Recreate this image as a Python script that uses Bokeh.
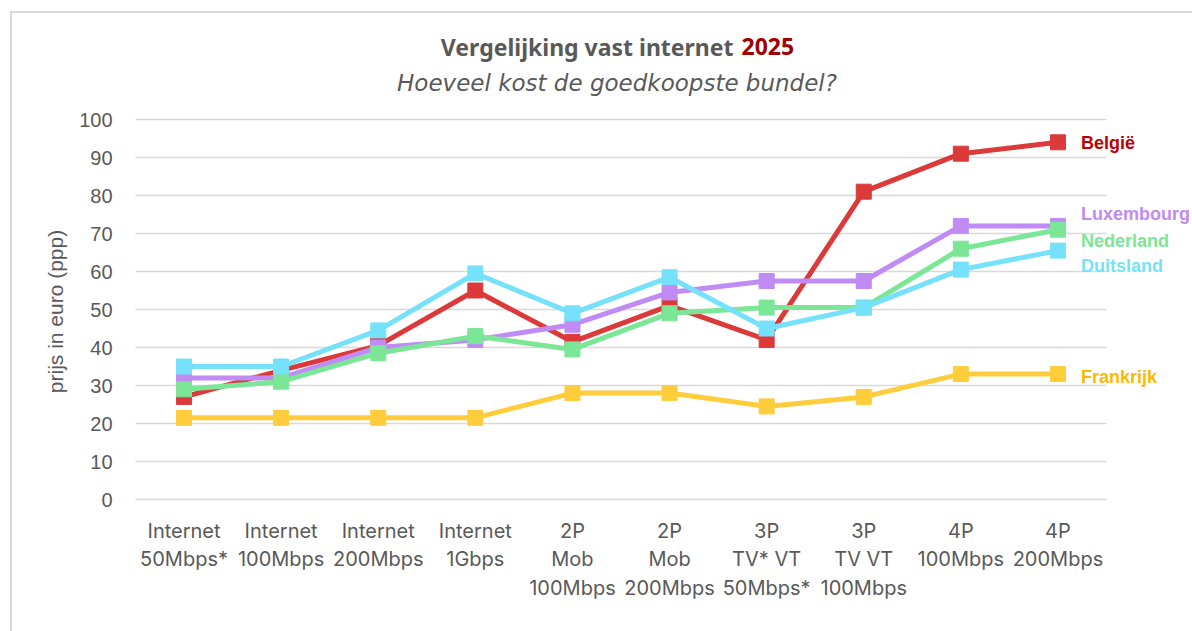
import math
from bokeh.plotting import figure
from bokeh.models import Range1d, FixedTicker, Label, Grid
from bokeh.embed import file_html
from bokeh.resources import INLINE

categories = ["Internet\n50Mbps*", "Internet\n100Mbps", "Internet\n200Mbps", "Internet\n1Gbps",
              "2P\nMob\n100Mbps", "2P\nMob\n200Mbps", "3P\nTV* VT\n50Mbps*", "3P\nTV VT\n100Mbps",
              "4P\n100Mbps", "4P\n200Mbps"]
belgie = [27, 34, 40.5, 55, 41.5, 51, 42, 81, 91, 94]
luxemburg = [32, 32, 40, 42, 46, 54.5, 57.5, 57.5, 72, 72]
nederland = [29, 31, 38.5, 43, 39.5, 49, 50.5, 50.5, 66, 71]
duitsland = [35, 35, 44.5, 59.5, 49, 58.5, 45, 50.5, 60.5, 65.5]
frankrijk = [21.5, 21.5, 21.5, 21.5, 28, 28, 24.5, 27, 33, 33]
y_ticks = list(range(0, 101, 10))

xs = [i + 0.5 for i in range(len(categories))]
n = len(categories)

# layout geometry (pixels)
W, H = 1182, 620
ORIGIN_X, ORIGIN_Y = 12, 13          # canvas origin on the page
FRAME_L, FRAME_B, FRAME_T = 135, 499, 119   # page pixels of the value area (0..100)
px_per_x = 97.1
px_per_y = (FRAME_B - FRAME_T) / 100.0
CLIP_B = 508                           # page y of the bottom of the drawing area

x0 = (ORIGIN_X - FRAME_L) / px_per_x
x1 = x0 + W / px_per_x
ytop = (FRAME_B - ORIGIN_Y) / px_per_y
ybot = -(CLIP_B - FRAME_B) / px_per_y

p = figure(width=W, height=H, output_backend="svg", toolbar_location=None,
           x_range=Range1d(x0, x1), y_range=Range1d(ybot, ytop),
           min_border_left=0, min_border_right=0, min_border_top=0,
           min_border_bottom=H - (CLIP_B - ORIGIN_Y))
p.margin = (11, 0, 0, 10)
p.styles = {"border-left": "2px solid #d9d9d9", "border-top": "2px solid #d9d9d9"}
p.outline_line_color = None
p.background_fill_color = "white"
p.border_fill_color = "white"

p.xgrid.grid_line_color = None
p.yaxis.visible = False
yg = p.ygrid[0]
yg.ticker = FixedTicker(ticks=y_ticks)
yg.grid_line_color = "#d9d9d9"
yg.grid_line_width = 1.5
if "cross_bounds" in Grid.properties():
    yg.cross_bounds = (0, n)
else:
    yg.grid_line_color = None
    p.segment(x0=[0] * len(y_ticks), x1=[n] * len(y_ticks), y0=y_ticks, y1=y_ticks,
              line_color="#d9d9d9", line_width=1.5)

p.xaxis.ticker = FixedTicker(ticks=xs)
p.xaxis.major_label_overrides = {x: c for x, c in zip(xs, categories)}
xa = p.xaxis[0]
xa.axis_line_color = None
xa.major_tick_line_color = None
xa.minor_tick_line_color = None
xa.major_label_text_color = "#595959"
xa.major_label_text_font_size = "20px"
xa.major_label_text_font = "Inter"
xa.major_label_standoff = 4

# y tick labels
p.text(x=[0] * len(y_ticks), y=y_ticks, text=[str(t) for t in y_ticks], x_offset=-23,
       text_align="right", text_baseline="middle", text_font_size="20px",
       text_font={"value": "Liberation Sans"}, text_color="#595959")
p.add_layout(Label(x=0, y=50, x_offset=-80, y_offset=-2, angle=math.pi / 2, text="prijs in euro (ppp)",
                   text_align="center", text_baseline="middle", text_font="Liberation Sans",
                   text_font_size="21px", text_color="#595959"))

series = [
    ("Frankrijk", frankrijk, "#FFCD3C", "#FFB800", -3),
    ("België", belgie, "#DC3A3A", "#C00000", -1),
    ("Luxembourg", luxemburg, "#C08BF5", "#C08BF5", 12),
    ("Nederland", nederland, "#7BE696", "#7BE696", -11),
    ("Duitsland", duitsland, "#75E1FA", "#75E1FA", -15),
]
for name, vals, col, lcol, yoff in series:
    p.line(xs, vals, line_color=col, line_width=5)
    p.scatter(xs, vals, marker="square", size=15, fill_color=col, line_color=col)

for name, vals, col, lcol, yoff in series:
    p.add_layout(Label(x=xs[-1], y=vals[-1], x_offset=23, y_offset=yoff, text=name,
                       text_color=lcol, text_font="Liberation Sans", text_font_style="bold",
                       text_font_size="18px", text_baseline="middle"))

cx = n / 2
cx_px = FRAME_L + cx * px_per_x
p.add_layout(Label(x=cx, y=100, x_offset=733 - cx_px, y_offset=FRAME_T - 46,
                   text="Vergelijking vast internet", text_align="right", text_baseline="middle",
                   text_font="Noto Sans", text_font_style="bold", text_font_size="23px",
                   text_color="#595959"))
p.add_layout(Label(x=cx, y=100, x_offset=741 - cx_px, y_offset=FRAME_T - 46,
                   text="2025", text_align="left", text_baseline="middle",
                   text_font="Noto Sans", text_font_style="bold", text_font_size="23px",
                   text_color="#A00000"))
p.add_layout(Label(x=cx, y=100, x_offset=-4, y_offset=FRAME_T - 82,
                   text="Hoeveel kost de goedkoopste bundel?", text_align="center", text_baseline="middle",
                   text_font="DejaVu Sans", text_font_style="italic", text_font_size="23px",
                   text_color="#595959"))

open("out.html", "w").write(file_html(p, INLINE))
